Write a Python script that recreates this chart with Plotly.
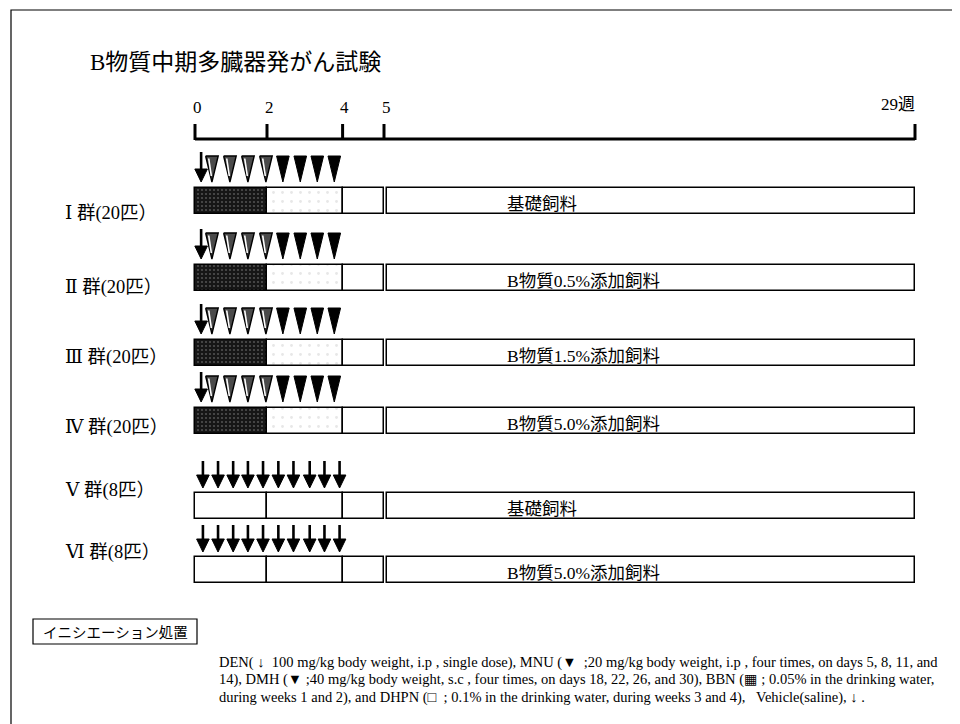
import numpy as np
import plotly.graph_objects as go

# ---------------- data ----------------
title_text = "B物質中期多臓器発がん試験"
week_ticks = [0, 2, 4, 5, 29]
week_tick_labels = ["0", "2", "4", "5", "29週"]
# drawn (schematic) position of each week break on the time bar
schematic_pos = [0, 2, 4.1, 5.25, 20]

group_labels = ["Ⅰ 群(20匹）", "Ⅱ 群(20匹）", "Ⅲ 群(20匹）", "Ⅳ 群(20匹）", "Ⅴ 群(8匹）", "Ⅵ 群(8匹）"]
diet_labels = ["基礎飼料", "B物質0.5%添加飼料", "B物質1.5%添加飼料",
               "B物質5.0%添加飼料", "基礎飼料", "B物質5.0%添加飼料"]
initiated = [True, True, True, True, False, False]

den_weeks = [0.17]                              # DEN single dose
mnu_weeks = [0.47, 0.97, 1.47, 1.97]            # MNU, 4 times
dmh_weeks = [2.42, 2.88, 3.33, 3.78]            # DMH, 4 times
vehicle_weeks = [0.22, 0.64, 1.06, 1.47, 1.89, 2.30, 2.70, 3.13, 3.52, 3.92]  # saline

legend_label = "イニシエーション処置"
footnote_lines = [
    "DEN( ↓  100 mg/kg body weight, i.p , single dose), MNU (▼  ;20 mg/kg body weight, i.p , four times, on days 5, 8, 11, and",
    "14), DMH (▼ ;40 mg/kg body weight, s.c , four times, on days 18, 22, 26, and 30), BBN (▦ ; 0.05% in the drinking water,",
    "during weeks 1 and 2), and DHPN (□  ; 0.1% in the drinking water, during weeks 3 and 4),   Vehicle(saline), ↓ .",
]

# ---------------- layout constants (screen pixels) ----------------
OFF = 8                      # page body margin
W, H = 960 - OFF, 724 - OFF  # figure size
X0_PX, PX_PER_UNIT = 195, 36.0
bar_top = [188, 265, 340, 408, 493, 557]
bar_h = 26
label_y = [213, 287, 357, 427, 490, 552]
axis_y = 139
tick_top = 124
tick_label_y = 107
marker_gap = 5
mark_h = 27

SERIF_CJK = "Liberation Serif, DejaVu Serif, Noto Sans CJK JP"


def sx(weeks):
    return np.interp(weeks, week_ticks, schematic_pos)


def px(p):  # pixel width -> x units
    return p / PX_PER_UNIT


def pxs(screen_x):  # screen x -> x units
    return (screen_x - X0_PX) / PX_PER_UNIT


def paper_x(screen_x):
    return (screen_x - OFF) / W


bar_c = [t + bar_h / 2 for t in bar_top]
init_idx = [i for i, f in enumerate(initiated) if f]
veh_idx = [i for i, f in enumerate(initiated) if not f]

fig = go.Figure()

# ---- time-course boxes (horizontal bars) ----
s0, s2, s4, s5, s29 = [float(v) for v in sx(week_ticks)]
line = dict(color="black", width=1.5)
fig.add_trace(go.Bar(
    orientation="h", y=[bar_c[i] for i in init_idx], base=[s0] * len(init_idx),
    x=[s2 - s0] * len(init_idx), width=bar_h,
    marker=dict(color="#161616", line=line,
                pattern=dict(shape=".", bgcolor="#161616", fgcolor="#8a8a8a", size=4, solidity=0.22)),
    hoverinfo="skip", showlegend=False))
fig.add_trace(go.Bar(
    orientation="h", y=[bar_c[i] for i in init_idx], base=[s2] * len(init_idx),
    x=[s4 - s2] * len(init_idx), width=bar_h,
    marker=dict(color="white", line=line,
                pattern=dict(shape=".", bgcolor="white", fgcolor="#d0d0d0", size=9, solidity=0.08)),
    hoverinfo="skip", showlegend=False))
fig.add_trace(go.Bar(
    orientation="h", y=[bar_c[i] for i in veh_idx for _ in range(2)],
    base=[b for _ in veh_idx for b in (s0, s2)],
    x=[w for _ in veh_idx for w in (s2 - s0, s4 - s2)], width=bar_h,
    marker=dict(color="white", line=line), hoverinfo="skip", showlegend=False))
fig.add_trace(go.Bar(
    orientation="h", y=bar_c, base=[s4] * 6, x=[s5 - s4] * 6, width=bar_h,
    marker=dict(color="white", line=line), hoverinfo="skip", showlegend=False))
gap = px(3)
fig.add_trace(go.Bar(
    orientation="h", y=bar_c, base=[s5 + gap] * 6, x=[s29 - s5 - gap] * 6, width=bar_h,
    marker=dict(color="white", line=line), hoverinfo="skip", showlegend=False))

# ---- markers ----
shaft_x, shaft_y, head_x, head_y = [], [], [], []
tri_x, tri_y, mnu_x, mnu_y, stripe_x, stripe_y = [], [], [], [], [], []
hw = px(6.3)


def add_arrow(xc, top, h=mark_h):
    shaft_x.extend([xc, xc, None])
    shaft_y.extend([top, top + h - 11, None])
    head_x.extend([xc - hw, xc + hw, xc, xc - hw, None])
    head_y.extend([top + h - 13, top + h - 13, top + h, top + h - 13, None])


def add_tri(xs, ys, xc, top):
    xs.extend([xc - hw, xc + hw, xc, xc - hw, None])
    ys.extend([top, top, top + mark_h - 1, top, None])


for i in init_idx:
    top = bar_top[i] - marker_gap - mark_h
    for w in sx(den_weeks):
        add_arrow(float(w), top - 4, mark_h + 3)
    for w in sx(mnu_weeks):
        add_tri(mnu_x, mnu_y, float(w), top)
        stripe_x.extend([float(w) - px(3.2), float(w) - px(0.6), None])
        stripe_y.extend([top + 2.5, top + 20, None])
    for w in sx(dmh_weeks):
        add_tri(tri_x, tri_y, float(w), top)
for i in veh_idx:
    top = bar_top[i] - marker_gap - mark_h
    for w in sx(vehicle_weeks):
        add_arrow(float(w), top)

fig.add_trace(go.Scatter(x=shaft_x, y=shaft_y, mode="lines", line=dict(color="black", width=2.6),
                         hoverinfo="skip", showlegend=False))
fig.add_trace(go.Scatter(x=head_x, y=head_y, mode="lines", fill="toself", fillcolor="black",
                         line=dict(color="black", width=1), hoverinfo="skip", showlegend=False))
fig.add_trace(go.Scatter(x=tri_x, y=tri_y, mode="lines", fill="toself", fillcolor="black",
                         line=dict(color="black", width=1), hoverinfo="skip", showlegend=False))
fig.add_trace(go.Scatter(x=mnu_x, y=mnu_y, mode="lines", fill="toself", fillcolor="#4a4a4a",
                         line=dict(color="black", width=1.4), hoverinfo="skip", showlegend=False))
fig.add_trace(go.Scatter(x=stripe_x, y=stripe_y, mode="lines", line=dict(color="white", width=1.6),
                         hoverinfo="skip", showlegend=False))

# ---- timeline axis ----
ax_x, ax_y = [s0, s29, None], [axis_y, axis_y, None]
for s in sx(week_ticks):
    ax_x.extend([float(s), float(s), None])
    ax_y.extend([tick_top, axis_y + 1, None])
fig.add_trace(go.Scatter(x=ax_x, y=ax_y, mode="lines", line=dict(color="black", width=3),
                         hoverinfo="skip", showlegend=False))

annotations = []
for s, lab in zip(sx(week_ticks), week_tick_labels):
    if lab.endswith("週"):
        annotations.append(dict(x=float(s) + px(2), y=tick_label_y - 3, text=lab, xanchor="right",
                                yanchor="middle", showarrow=False,
                                font=dict(family=SERIF_CJK, size=17, color="black")))
    else:
        annotations.append(dict(x=float(s) + px(2), y=tick_label_y, text=lab, xanchor="center",
                                yanchor="middle", showarrow=False,
                                font=dict(family=SERIF_CJK, size=17, color="black")))

# diet labels in long boxes
for i, lab in enumerate(diet_labels):
    annotations.append(dict(x=pxs(505), y=bar_c[i] + 3, text=lab, xanchor="left", yanchor="middle",
                            showarrow=False, font=dict(family=SERIF_CJK, size=17.5, color="black")))
# group labels
for i, lab in enumerate(group_labels):
    annotations.append(dict(xref="paper", x=paper_x(63), y=label_y[i], text=lab, xanchor="left",
                            yanchor="middle", showarrow=False,
                            font=dict(family=SERIF_CJK, size=18.5, color="black")))
# title
annotations.append(dict(xref="paper", x=paper_x(88), y=62, text=title_text, xanchor="left", yanchor="middle",
                        showarrow=False, font=dict(family=SERIF_CJK, size=23, color="black")))
# legend box label
annotations.append(dict(xref="paper", x=paper_x(115), y=631, text=legend_label, xanchor="center",
                        yanchor="middle", showarrow=False,
                        font=dict(family="Noto Sans CJK JP", size=14.5, color="black")))
# footnote
for k, t in enumerate(footnote_lines):
    annotations.append(dict(xref="paper", x=paper_x(217), y=662 + 17.5 * k, text=t, xanchor="left",
                            yanchor="middle", showarrow=False, align="left",
                            font=dict(family=SERIF_CJK, size=14.5, color="black")))

shapes = [
    # outer frame
    dict(type="rect", xref="paper", yref="y", x0=paper_x(11), x1=paper_x(953), y0=10, y1=740,
         line=dict(color="black", width=1.2), fillcolor="rgba(0,0,0,0)"),
    # legend box
    dict(type="rect", xref="paper", yref="y", x0=paper_x(33), x1=paper_x(197), y0=619, y1=644,
         line=dict(color="black", width=1.2), fillcolor="rgba(0,0,0,0)"),
]

fig.update_layout(
    width=W, height=H, margin=dict(l=0, r=0, t=0, b=0),
    paper_bgcolor="white", plot_bgcolor="white", barmode="overlay", bargap=0,
    font=dict(color="black"),
    xaxis=dict(range=[pxs(OFF), pxs(OFF + W)], visible=False, fixedrange=True),
    yaxis=dict(range=[OFF + H, OFF], visible=False, fixedrange=True),
    annotations=annotations, shapes=shapes, showlegend=False,
)
fig.write_html("out.html")
